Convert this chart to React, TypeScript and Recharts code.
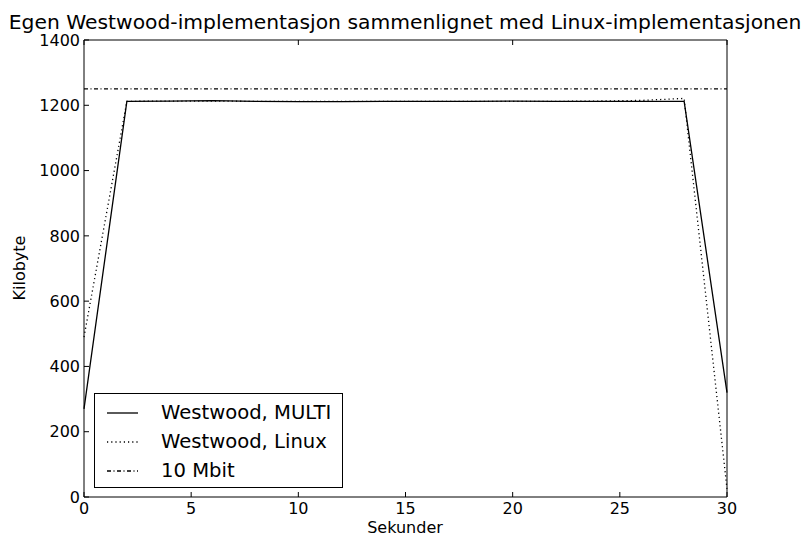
import { LineChart, Line, XAxis, YAxis, ReferenceLine } from 'recharts'

// målinger, ett punkt annethvert sekund
const seconds = [0, 2, 4, 6, 8, 10, 12, 14, 16, 18, 20, 22, 24, 26, 28, 30]
const multi = [270, 1212, 1213, 1214, 1212, 1211, 1211, 1212, 1212, 1212, 1213, 1212, 1212, 1212, 1212, 320]
const linux = [490, 1212, 1213, 1213, 1212, 1212, 1212, 1212, 1212, 1212, 1212, 1212, 1213, 1215, 1221, 25]
const LINK_RATE = 1250

const xTicks = [0, 5, 10, 15, 20, 25, 30]
const yTicks = [0, 200, 400, 600, 800, 1000, 1200, 1400]

const legendItems = [
  { label: 'Westwood, MULTI', dash: undefined },
  { label: 'Westwood, Linux', dash: '1.2 3' },
  { label: '10 Mbit', dash: '4 2.5 1 2.5' },
]

const data = seconds.map((s, i) => ({ s, multi: multi[i], linux: linux[i] }))

const font = '"DejaVu Sans", sans-serif'
const tickStyle = { fontSize: 16, fill: '#000', fontFamily: font }
const noLabel = () => ''

function LegendBox() {
  return (
    <div
      style={{
        position: 'absolute',
        left: 94,
        top: 393,
        border: '1px solid #000',
        background: '#fff',
        width: 247,
        height: 89,
        boxSizing: 'content-box',
        fontFamily: font,
        fontSize: 19.6,
        paddingTop: 4,
      }}
    >
      {legendItems.map((item) => (
        <div key={item.label} style={{ display: 'flex', alignItems: 'center', height: 29 }}>
          <svg width={54} height={10} style={{ marginLeft: 12 }}>
            <line x1={0} y1={5} x2={31} y2={5} stroke="#000" strokeWidth={1.3} strokeDasharray={item.dash} />
          </svg>
          <span>{item.label}</span>
        </div>
      ))}
    </div>
  )
}

export default function App() {
  return (
    <div style={{ position: 'absolute', left: 0, top: 0, width: 805, height: 538, background: '#fff' }}>
      <div
        style={{
          position: 'absolute',
          left: 0,
          width: 810,
          top: 10,
          textAlign: 'center',
          fontFamily: font,
          fontSize: 20.3,
          lineHeight: '24px',
          whiteSpace: 'nowrap',
        }}
      >
        Egen Westwood-implementasjon sammenlignet med Linux-implementasjonen
      </div>
      <div
        style={{
          position: 'absolute',
          left: 405,
          top: 518,
          transform: 'translateX(-50%)',
          fontFamily: font,
          fontSize: 16,
          lineHeight: '20px',
        }}
      >
        Sekunder
      </div>
      <div
        style={{
          position: 'absolute',
          left: 20,
          top: 268,
          transform: 'translate(-50%, -50%) rotate(-90deg)',
          fontFamily: font,
          fontSize: 16,
          lineHeight: '20px',
        }}
      >
        Kilobyte
      </div>
      <LineChart width={805} height={538} data={data} margin={{ top: 0, right: 0, bottom: 0, left: 0 }}>
        <XAxis
          dataKey="s"
          type="number"
          domain={[0, 30]}
          ticks={xTicks}
          height={41}
          tickSize={-5}
          tickMargin={11}
          tick={tickStyle}
          stroke="#000"
          interval={0}
        />
        <XAxis
          xAxisId="top"
          orientation="top"
          type="number"
          domain={[0, 30]}
          ticks={xTicks}
          height={40}
          tickSize={-5}
          tickFormatter={noLabel}
          stroke="#000"
          interval={0}
        />
        <YAxis
          type="number"
          domain={[0, 1400]}
          ticks={yTicks}
          width={84}
          tickSize={-5}
          tickMargin={9}
          tick={tickStyle}
          stroke="#000"
          interval={0}
        />
        <YAxis
          yAxisId="right"
          orientation="right"
          type="number"
          domain={[0, 1400]}
          ticks={yTicks}
          width={78}
          tickSize={-5}
          tickFormatter={noLabel}
          stroke="#000"
          interval={0}
        />
        <ReferenceLine y={LINK_RATE} stroke="#000" strokeWidth={1.3} strokeDasharray="4 2.5 1 2.5" />
        <Line
          dataKey="linux"
          stroke="#000"
          strokeWidth={1.3}
          strokeDasharray="1.2 3"
          dot={false}
          isAnimationActive={false}
        />
        <Line dataKey="multi" stroke="#000" strokeWidth={1.3} dot={false} isAnimationActive={false} />
      </LineChart>
      <LegendBox />
    </div>
  )
}
